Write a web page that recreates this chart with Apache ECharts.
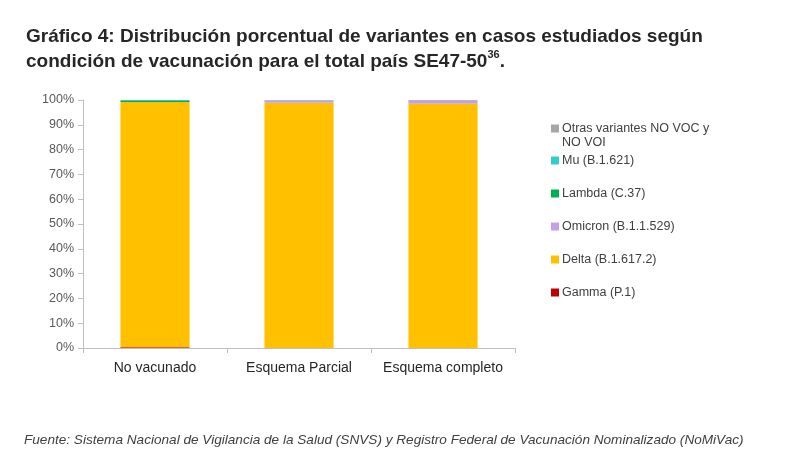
<!DOCTYPE html>
<html>
<head>
<meta charset="utf-8">
<title>Gráfico 4</title>
<script src="https://cdn.jsdelivr.net/npm/echarts@6/dist/echarts.min.js"></script>
<style>
  html, body { margin: 0; padding: 0; background: #fff; }
  #main { width: 800px; height: 470px; }
</style>
</head>
<body>
<div id="main"></div>
<script type="text/javascript">
// categorías y valores (%)
var categories = ['No vacunado', 'Esquema Parcial', 'Esquema completo'];
var gamma   = [0.3, 0, 0];
var delta   = [98.9, 98.9, 98.5];
var omicron = [0, 1.0, 1.2];
var lambda  = [0.4, 0, 0];
var mu      = [0.4, 0.1, 0];
var otras   = [0, 0, 0.3];
var yTicks  = [0, 10, 20, 30, 40, 50, 60, 70, 80, 90, 100];

var font = '"Liberation Sans", Arial, sans-serif';
var chart = echarts.init(document.getElementById('main'));

function serie(name, data, color) {
    return {
        name: name,
        type: 'bar',
        stack: 'total',
        data: data,
        barCategoryGap: '52%',
        itemStyle: { color: color },
        emphasis: { disabled: true }
    };
}

var option = {
    animation: false,
    title: {
        left: 21,
        top: 19,
        text: '{t|Gráfico 4: Distribución porcentual de variantes en casos estudiados según}\n{t|condición de vacunación para el total país SE47-50}{s|36}{t|.}',
        textStyle: {
            rich: {
                t: { fontFamily: font, fontWeight: 'bold', fontSize: 19, color: '#262626', lineHeight: 25 },
                s: { fontFamily: font, fontWeight: 'bold', fontSize: 11, color: '#262626', verticalAlign: 'top', lineHeight: 25, padding: [0, 0, 8, 0] }
            }
        }
    },
    legend: [{
        orient: 'vertical',
        left: 546,
        top: 117,
        itemWidth: 8,
        itemHeight: 8,
        icon: 'rect',
        data: ['Otras variantes NO VOC y NO VOI'],
        formatter: function () { return 'Otras variantes NO VOC y'; },
        textStyle: { fontFamily: font, fontSize: 12.5, color: '#404040', padding: [0, 0, 0, -2] },
        selectedMode: false
    }, {
        orient: 'vertical',
        left: 546,
        top: 149,
        itemGap: 20,
        itemWidth: 8,
        itemHeight: 8,
        icon: 'rect',
        data: ['Mu (B.1.621)', 'Lambda (C.37)', 'Omicron (B.1.1.529)', 'Delta (B.1.617.2)', 'Gamma (P.1)'],
        textStyle: { fontFamily: font, fontSize: 12.5, color: '#404040', padding: [0, 0, 0, -2] },
        selectedMode: false
    }],
    graphic: [{
        type: 'text',
        left: 562,
        top: 136,
        style: { text: 'NO VOI', font: '12.5px ' + font, fill: '#404040' }
    }, {
        type: 'text',
        left: 24,
        top: 433,
        style: {
            text: 'Fuente: Sistema Nacional de Vigilancia de la Salud (SNVS) y Registro Federal de Vacunación Nominalizado (NoMiVac)',
            font: 'italic 13.6px ' + font,
            fill: '#404040'
        }
    }],
    grid: { left: 83, right: 285, top: 100, bottom: 122 },
    xAxis: {
        type: 'category',
        data: categories,
        axisLine: { lineStyle: { color: '#bfbfbf' } },
        axisTick: { show: true, interval: 0, length: 5, lineStyle: { color: '#bfbfbf' } },
        axisLabel: { interval: 0, fontFamily: font, fontSize: 14, color: '#262626', margin: 13 }
    },
    yAxis: {
        type: 'value',
        min: yTicks[0],
        max: yTicks[yTicks.length - 1],
        interval: 10,
        axisLine: { show: true, lineStyle: { color: '#bfbfbf' } },
        axisTick: { show: true, length: 5, lineStyle: { color: '#bfbfbf' } },
        splitLine: { show: false },
        axisLabel: { fontFamily: font, fontSize: 12.5, color: '#595959', margin: 9, formatter: '{value}%' }
    },
    series: [
        serie('Gamma (P.1)', gamma, '#c00000'),
        serie('Delta (B.1.617.2)', delta, '#ffc000'),
        serie('Omicron (B.1.1.529)', omicron, '#c5a0e6'),
        serie('Lambda (C.37)', lambda, '#00b050'),
        serie('Mu (B.1.621)', mu, '#33cccc'),
        serie('Otras variantes NO VOC y NO VOI', otras, '#a6a6a6')
    ]
};

chart.setOption(option);
</script>
</body>
</html>
